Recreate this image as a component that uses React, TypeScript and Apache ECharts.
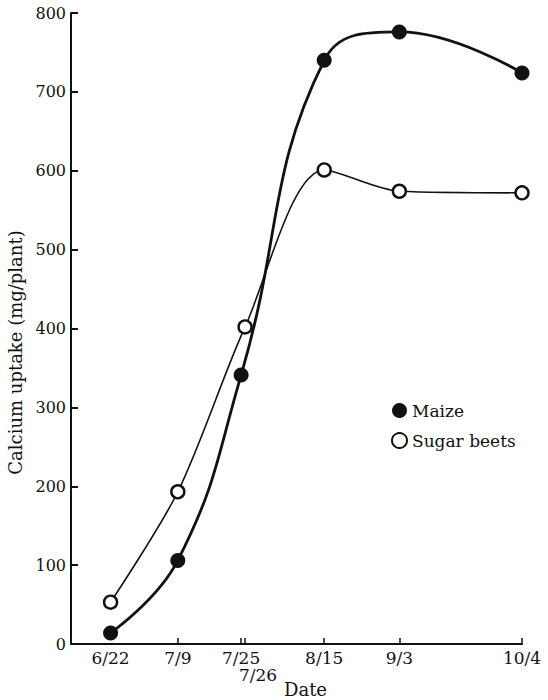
import React, { useEffect, useRef } from "react";
import * as echarts from "echarts";

// Sampling dates (month/day) of the growing season
const dates = ["6/22", "7/9", "7/25", "7/26", "8/15", "9/3", "10/4"];

// Calcium uptake, mg/plant
const maizeDates = ["6/22", "7/9", "7/25", "8/15", "9/3", "10/4"];
const maizeValues = [14, 106, 341, 740, 776, 724];

const beetDates = ["6/22", "7/9", "7/26", "8/15", "9/3", "10/4"];
const beetValues = [53, 193, 402, 601, 574, 572];

const yTicks = [0, 100, 200, 300, 400, 500, 600, 700, 800];

// Date axis runs from 6/12 to 10/4, counted in days from June 1 (= day 1)
const axisStart = "6/12";
const axisEnd = "10/4";

const dayNum = (s: string) => {
  const [m, d] = s.split("/").map(Number);
  return Math.round((Date.UTC(1970, m - 1, d) - Date.UTC(1970, 5, 1)) / 86400000) + 1;
};
const datePos = dates.map(dayNum);
const labelAt = (v: number) => {
  const i = datePos.indexOf(v);
  return i >= 0 ? dates[i] : "";
};

const FONT = "'DejaVu Serif', 'Liberation Serif', serif";

export default function App() {
  const ref = useRef<HTMLDivElement>(null);

  useEffect(() => {
    if (!ref.current) return;
    const chart = echarts.init(ref.current, undefined, { renderer: "svg" });
    const tickVals = datePos.filter((_, i) => i > 0);
    chart.setOption({
      animation: false,
      backgroundColor: "#ffffff",
      textStyle: { fontFamily: FONT, color: "#111" },
      grid: { left: 71, right: 26, top: 13, bottom: 56, outerBoundsMode: "none", containLabel: false },
      legend: {
        orient: "vertical",
        left: 386,
        top: 397,
        itemGap: 13,
        itemWidth: 15,
        itemHeight: 15,
        icon: "circle",
        textStyle: { fontFamily: FONT, fontSize: 17, color: "#111" },
        data: ["Maize", "Sugar beets"],
      },
      xAxis: {
        type: "value",
        min: dayNum(axisStart),
        max: dayNum(axisEnd),
        name: "Date",
        nameLocation: "middle",
        nameGap: 36,
        nameMoveOverlap: false,
        nameTextStyle: { fontFamily: FONT, fontSize: 18, color: "#111", padding: [0, 0, 0, 18] },
        splitLine: { show: false },
        axisLine: { lineStyle: { color: "#111", width: 2 } },
        axisTick: {
          inside: true,
          length: 6,
          lineStyle: { color: "#111", width: 1.5 },
          customValues: tickVals,
        },
        axisLabel: {
          customValues: datePos,
          fontFamily: FONT,
          fontSize: 17,
          color: "#111",
          margin: 5,
          formatter: (v: number) => {
            const s = labelAt(v);
            if (s === "7/26") return "{low|" + s + "}";
            return s;
          },
          rich: {
            low: { fontFamily: FONT, fontSize: 17, color: "#111", padding: [17, 0, 0, 26] },
          },
        },
      },
      yAxis: {
        type: "value",
        min: 0,
        max: 800,
        interval: 100,
        name: "Calcium uptake (mg/plant)",
        nameLocation: "middle",
        nameGap: 38,
        nameTextStyle: { fontFamily: FONT, fontSize: 18, color: "#111", padding: [0, 48, 0, 0] },
        splitLine: { show: false },
        axisLine: { show: true, lineStyle: { color: "#111", width: 2 } },
        axisTick: {
          show: true,
          inside: true,
          length: 7,
          lineStyle: { color: "#111", width: 2 },
          customValues: yTicks,
        },
        axisLabel: { fontFamily: FONT, fontSize: 16, color: "#111", margin: 5, customValues: yTicks },
      },
      series: [
        {
          name: "Maize",
          type: "line",
          smooth: 0.45,
          data: maizeDates.map((d, i) => [dayNum(d), maizeValues[i]]),
          symbol: "circle",
          symbolSize: 15,
          lineStyle: { color: "#111", width: 2.8 },
          itemStyle: { color: "#111", borderColor: "#111", borderWidth: 0 },
          z: 3,
        },
        {
          name: "Sugar beets",
          type: "line",
          smooth: 0.3,
          data: beetDates.map((d, i) => [dayNum(d), beetValues[i]]),
          symbol: "circle",
          symbolSize: 13,
          lineStyle: { color: "#111", width: 1.6 },
          itemStyle: { color: "#ffffff", borderColor: "#111", borderWidth: 2.4 },
          z: 4,
        },
      ],
    });
    return () => chart.dispose();
  }, []);

  return (
    <div
      ref={ref}
      style={{ position: "absolute", left: 0, top: 0, width: 548, height: 700 }}
    />
  );
}
